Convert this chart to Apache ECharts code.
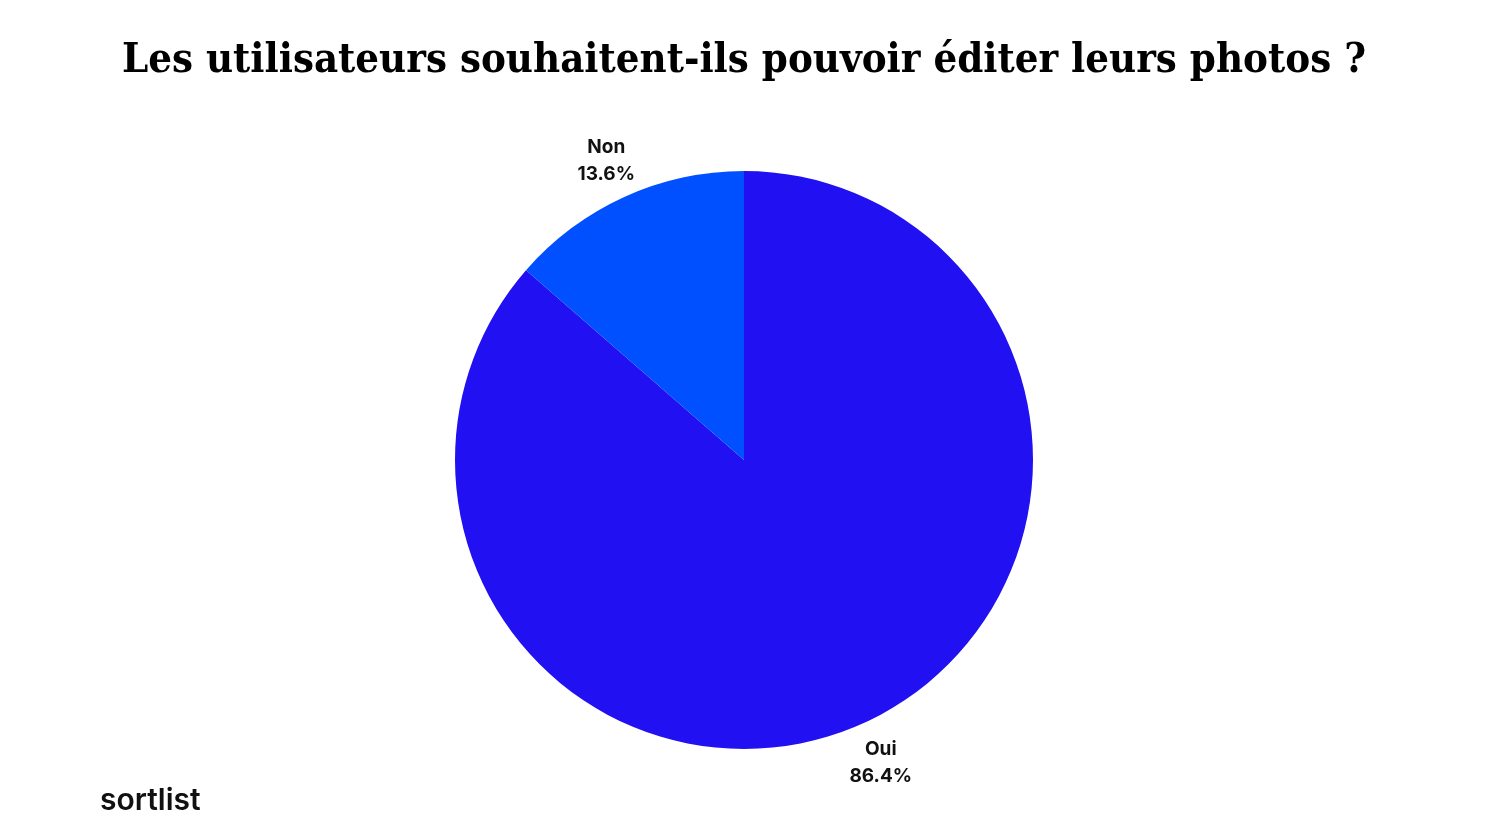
<!DOCTYPE html>
<html><head><meta charset="utf-8">
<script src="https://cdn.jsdelivr.net/npm/echarts@6/dist/echarts.min.js"></script>
<style>html,body{margin:0;padding:0;background:#fff}#c{width:1488px;height:837px}</style>
</head><body><div id="c"></div>
<script>
const titleText = 'Les utilisateurs souhaitent-ils pouvoir éditer leurs photos ?';
const categories = ['Oui', 'Non'];
const values = [86.4, 13.6];
const colors = ['#2010F2', '#0050FF'];

const chart = echarts.init(document.getElementById('c'));
chart.setOption({
  backgroundColor: '#ffffff',
  animation: false,
  title: {
    text: titleText, left: 'center', top: 35,
    textStyle: {fontFamily: '"DejaVu Serif Condensed", "Liberation Serif", serif', fontWeight: 'bold', fontSize: 41.5, color: '#000'}
  },
  graphic: [{
    type: 'text', left: 100, top: 786,
    style: {text: 'sortlist', font: '600 30px Inter', fill: '#111'}
  }],
  series: [{
    type: 'pie',
    center: [744, 460],
    radius: [0, 289],
    startAngle: 90,
    clockwise: true,
    data: categories.map((c, i) => ({name: c, value: values[i], itemStyle: {color: colors[i]}})),
    label: {
      show: true, position: 'outside',
      formatter: p => '{a|' + p.name + '}\n{a|' + p.value.toFixed(1) + '%}',
      rich: {a: {fontFamily: 'Inter', fontWeight: 'bold', fontSize: 19, color: '#111', lineHeight: 27, align: 'center'}}
    },
    labelLine: {show: false, length: 41, length2: 0},
    labelLayout: p => ({align: 'center', dx: p.dataIndex === 1 ? 4 : -5, dy: p.dataIndex === 1 ? 1 : 2}),
    emphasis: {disabled: true}
  }]
});
</script></body></html>
